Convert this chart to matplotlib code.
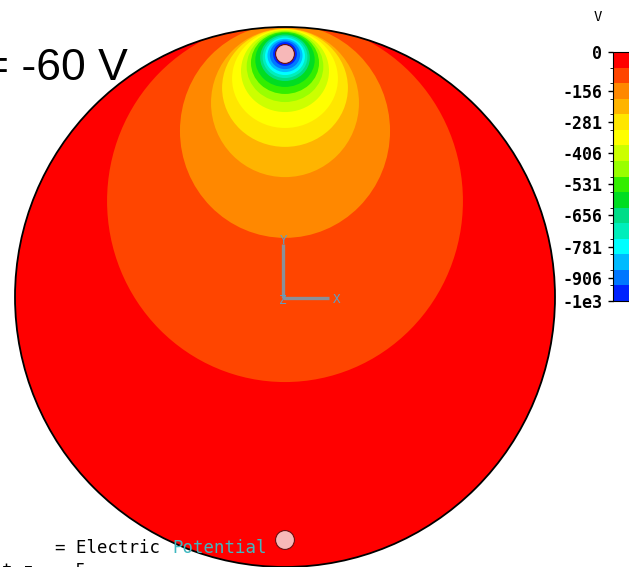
import matplotlib
matplotlib.use('Agg')
import matplotlib.pyplot as plt
from matplotlib.patches import Circle, Ellipse
from matplotlib.colors import ListedColormap, BoundaryNorm
from matplotlib.cm import ScalarMappable

# contour levels of the electric potential, V
levels = [-62.5, -125, -187.5, -250, -312.5, -375, -437.5, -500,
          -562.5, -625, -687.5, -750, -812.5, -875, -937.5]
# where each contour crosses the vertical axis, and its half width (disk radius = 1)
cross_top = [1.026, 1.011, 0.994, 0.993, 0.991, 0.989, 0.985, 0.982,
             0.978, 0.972, 0.967, 0.961, 0.956, 0.950, 0.944]
cross_bottom = [-0.315, 0.219, 0.444, 0.556, 0.626, 0.685, 0.722, 0.752,
                0.778, 0.800, 0.811, 0.822, 0.833, 0.844, 0.856]
half_width = [0.659, 0.389, 0.274, 0.233, 0.196, 0.163, 0.142, 0.126,
              0.110, 0.092, 0.083, 0.074, 0.065, 0.056, 0.044]

# band colours from 0 V down to -1000 V
band_colors = ['#ff0000', '#ff4500', '#ff8800', '#ffb400', '#ffe600', '#ffff00',
               '#ccff00', '#99ff00', '#33ee00', '#00dd22', '#00dd88', '#00eebb',
               '#00ffff', '#00bbff', '#0077ff', '#0022ff']

cbar_ticks = [0, -156.25, -281.25, -406.25, -531.25, -656.25, -781.25, -906.25, -1000]
cbar_labels = ['0', '-156', '-281', '-406', '-531', '-656', '-781', '-906', '-1e3']

electrode_y = [0.9, -0.9]
electrode_r = 0.035

W, H = 629, 567
fig = plt.figure(figsize=(W / 100, H / 100), dpi=100)
fig.patch.set_facecolor('white')

# disk centre sits at pixel (285, 297), radius 270 px
ax = fig.add_axes([0, 0, 1, 1])
ax.set_xlim(-285 / 270, (W - 285) / 270)
ax.set_ylim(-(H - 297) / 270, 297 / 270)
ax.axis('off')

disk = Circle((0, 0), 1, facecolor=band_colors[0], edgecolor='none', zorder=1)
ax.add_patch(disk)
for i, lev in enumerate(levels):
    yc = (cross_top[i] + cross_bottom[i]) / 2
    h = cross_top[i] - cross_bottom[i]
    e = Ellipse((0, yc), 2 * half_width[i], h, facecolor=band_colors[i + 1],
                edgecolor='none', zorder=2)
    e.set_clip_path(disk)
    ax.add_patch(e)
ax.add_patch(Circle((0, 0), 1, fill=False, edgecolor='black', lw=1.3, zorder=5))

for ey in electrode_y:
    ax.add_patch(Circle((0, ey), electrode_r, facecolor='#f7b8b8',
                        edgecolor='#6a1010', lw=0.8, zorder=6))

# coordinate triad
tri_col = '#8a9099'
lab_col = '#5f9fc4'
ox, oy = -0.007, -0.004
ax.plot([ox, ox], [oy, oy + 0.2], color=tri_col, lw=2.4, zorder=7, solid_capstyle='butt')
ax.plot([ox, ox + 0.17], [oy, oy], color=tri_col, lw=2.4, zorder=7, solid_capstyle='butt')
tkw = dict(family='DejaVu Sans Mono', fontsize=9, color=lab_col, ha='center',
           va='center', zorder=8)
ax.text(ox, oy + 0.215, 'Y', **tkw)
ax.text(ox + 0.2, oy - 0.006, 'X', **tkw)
ax.text(ox, oy - 0.01, 'Z', **tkw)

# annotations
fig.text(128 / W, 1 - 80 / H, '= -60 V', ha='right', va='baseline',
         fontsize=32, family='Liberation Sans')
mono = dict(family='DejaVu Sans Mono', fontsize=12.5, va='baseline')
fig.text(55 / W, 1 - 553 / H, '= Electric', color='black', **mono)
fig.text(172 / W, 1 - 553 / H, 'Potential', color='#3fb8c0', **mono)
fig.text(2 / W, 1 - 576 / H, 't z  = 5', color='black', **mono)

# colour bar
bounds = [-1000] + levels[::-1] + [0]
cmap = ListedColormap(band_colors[::-1])
norm = BoundaryNorm(bounds, cmap.N)
cax = fig.add_axes([613 / W, 1 - 301 / H, 30 / W, 249 / H])
cb = fig.colorbar(ScalarMappable(norm=norm, cmap=cmap), cax=cax, ticks=cbar_ticks)
cb.outline.set_linewidth(0.8)
cax.yaxis.set_ticks_position('left')
cax.set_yticks(cbar_ticks)
cax.set_yticklabels(cbar_labels, family='DejaVu Sans Mono', fontweight='bold', fontsize=12)
cax.tick_params(axis='y', length=3.6, width=1, pad=4.3)
fig.text(602 / W, 1 - 17 / H, 'V', ha='right', va='center',
         family='DejaVu Sans Mono', fontsize=10)

fig.savefig('out.png', dpi=100)
